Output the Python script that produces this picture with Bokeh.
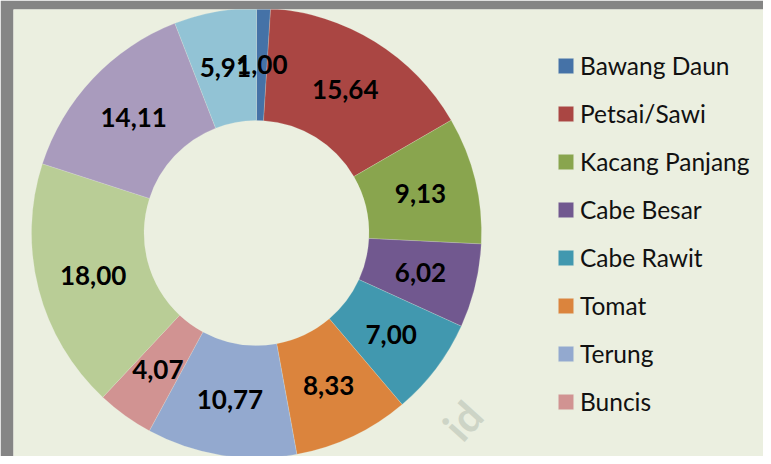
import math
from bokeh.plotting import figure
from bokeh.models import ColumnDataSource, Range1d, Legend, LegendItem
from bokeh.core.properties import value
from bokeh.embed import file_html
from bokeh.resources import INLINE

# ---- data ----
legend_names = ["Bawang Daun", "Petsai/Sawi", "Kacang Panjang", "Cabe Besar",
                "Cabe Rawit", "Tomat", "Terung", "Buncis"]
values = [1.00, 15.64, 9.13, 6.02, 7.00, 8.33, 10.77, 4.07, 18.00, 14.11, 5.91]
value_labels = ["1,00", "15,64", "9,13", "6,02", "7,00", "8,33", "10,77", "4,07",
                "18,00", "14,11", "5,91"]
colors = ["#4572A7", "#AA4643", "#89A54E", "#71588F", "#4198AF", "#DB843D",
          "#93A9CF", "#D19392", "#B9CD96", "#A99BBD", "#92C3D5"]

# ---- geometry (1 data unit = 1 screen pixel) ----
LEFT, TOP = 13, 9
W, H = 763, 456
FW, FH = W - LEFT, H - TOP
cx, cy = 256 - LEFT, FH - (232.5 - TOP)
r_in, r_out = 112.5, 225
r_lab = (r_in + r_out) / 2

total = sum(values)
starts, ends, lx, ly = [], [], [], []
cum = 0.0
for v in values:
    a0 = math.pi / 2 - 2 * math.pi * cum / total
    a1 = math.pi / 2 - 2 * math.pi * (cum + v) / total
    mid = (a0 + a1) / 2
    starts.append(a0)
    ends.append(a1)
    lx.append(cx + r_lab * math.cos(mid))
    ly.append(cy + r_lab * math.sin(mid))
    cum += v

src = ColumnDataSource(dict(start=starts, end=ends, color=colors,
                            lx=lx, ly=ly, lab=value_labels,
                            x=[cx] * len(values), y=[cy] * len(values)))

p = figure(width=W, height=H, output_backend="svg", toolbar_location=None,
           x_range=Range1d(0, FW), y_range=Range1d(0, FH),
           min_border_left=LEFT, min_border_right=0, min_border_top=TOP, min_border_bottom=0)
p.border_fill_color = "#858585"
p.background_fill_color = "#EBEFE0"
p.outline_line_color = None
p.axis.visible = False
p.xgrid.visible = False
p.ygrid.visible = False

# faint watermark fragment
p.text(x=[462 - LEFT], y=[FH - (420 - TOP)], text=["id"], angle=math.radians(48),
       text_font=value("Lato"), text_font_style="bold", text_font_size="42px",
       text_color="#CDD4C6", text_align="center", text_baseline="middle")

r = p.annular_wedge(x="x", y="y", inner_radius=r_in, outer_radius=r_out,
                    start_angle="start", end_angle="end", direction="clock",
                    fill_color="color", line_color="#EBEFE0", line_alpha=0.35,
                    line_width=0.6, source=src)

p.text(x="lx", y="ly", text="lab", source=src, text_font=value("Lato"),
       text_font_style="bold", text_font_size="26px", text_color="black",
       text_align="center", text_baseline="middle")

items = [LegendItem(label=n, renderers=[r], index=i) for i, n in enumerate(legend_names)]
legend = Legend(items=items, location=(543, 38), padding=0, margin=0,
                glyph_width=19, glyph_height=19, label_height=33, spacing=15,
                label_standoff=5, label_text_font="Lato", label_text_font_size="24.5px",
                label_text_color="#111111", border_line_color=None,
                background_fill_alpha=0)
p.add_layout(legend)

open("out.html", "w").write(file_html(p, INLINE))
